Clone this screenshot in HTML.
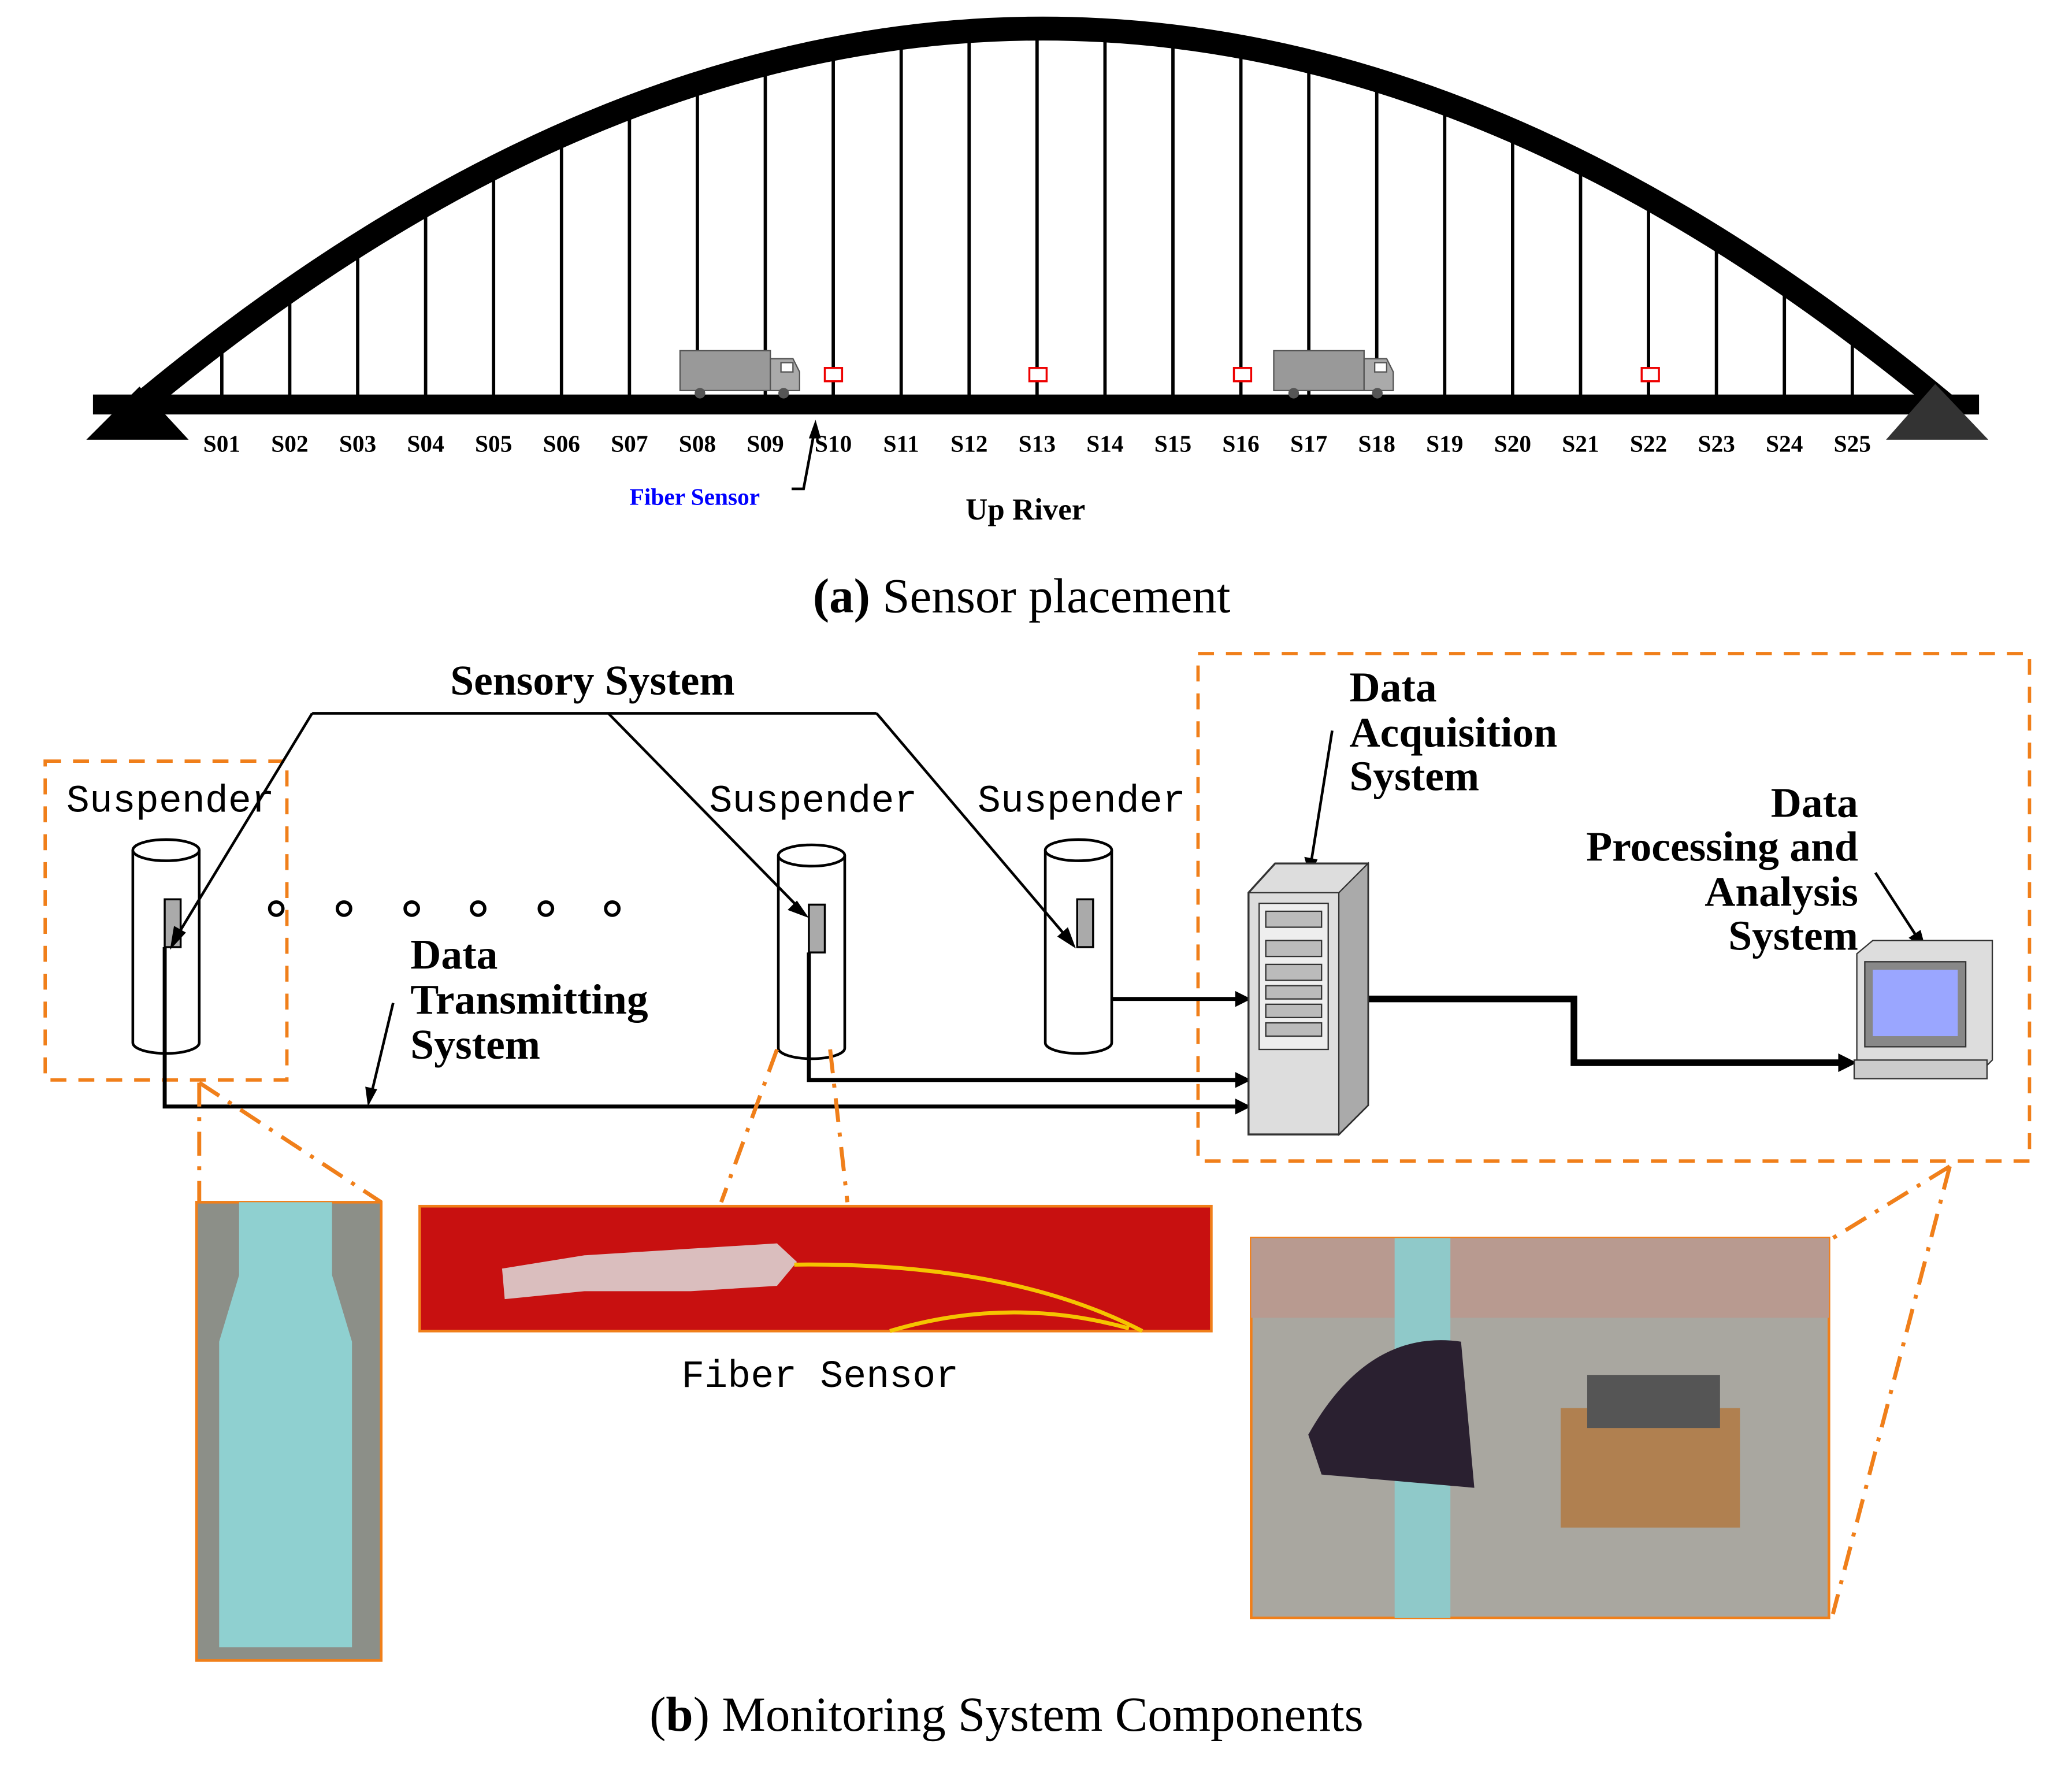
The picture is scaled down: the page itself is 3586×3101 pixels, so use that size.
<!DOCTYPE html>
<html><head><meta charset="utf-8"><style>
html,body{margin:0;padding:0;background:#fff}
svg{display:block}
.s{font-family:"Liberation Serif",serif;font-weight:bold;font-size:18px}
.t{font-family:"Liberation Serif",serif;font-weight:bold;font-size:32px}
.c{font-family:"Liberation Serif",serif;font-size:37px}
.m{font-family:"Liberation Mono","DejaVu Sans Mono",monospace;font-size:29px}
</style></head><body>
<svg id="sv" width="3586" height="3101" viewBox="0 0 1560 1349" xmlns="http://www.w3.org/2000/svg">
<rect width="1560" height="1349" fill="#fff"/>
<path d="M105 305 Q785 -262 1465 305" fill="none" stroke="#000" stroke-width="18"/>
<g id="hang" stroke="#000" stroke-width="2.5"></g>
<rect x="70" y="297" width="1420" height="15" fill="#000"/>
<polygon points="65,331 105,291 142,331" fill="#000"/>
<polygon points="1420,331 1457,289 1497,331" fill="#333"/>
<g id="lab" class="s"></g>
<g id="tr1">
<rect x="512" y="264" width="68" height="30" fill="#999" stroke="#555"/>
<polygon points="580,270 597,270 602,280 602,294 580,294" fill="#aaa" stroke="#555"/>
<rect x="588" y="273" width="9" height="7" fill="#fff" stroke="#555"/>
<circle cx="527" cy="296" r="4" fill="#555"/><circle cx="590" cy="296" r="4" fill="#555"/>
</g>
<use href="#tr1" x="447"/>
<g fill="#fff" stroke="#e00" stroke-width="1.5">
<rect x="621" y="277" width="13" height="10"/><rect x="775" y="277" width="13" height="10"/>
<rect x="929" y="277" width="13" height="10"/><rect x="1236" y="277" width="13" height="10"/>
</g>
<polyline points="596,368 605,368 614,320 611,330" fill="none" stroke="#000" stroke-width="2"/>
<polygon points="614,316 609,330 618,330" fill="#000"/>
<text x="474" y="380" class="s" fill="#00f">Fiber Sensor</text>
<text x="727" y="391" class="s" style="font-size:23px">Up River</text>
<text x="612" y="461" class="c"><tspan font-weight="bold">(a)</tspan> Sensor placement</text>

<g fill="none" stroke="#f07f1a" stroke-width="2.5" stroke-dasharray="12,9">
<rect x="34" y="573" width="182" height="240"/>
<rect x="902" y="492" width="626" height="382"/>
</g>
<text x="339" y="523" class="t">Sensory System</text>
<text x="50" y="611" class="m">Suspender</text>
<text x="534" y="611" class="m">Suspender</text>
<text x="736" y="611" class="m">Suspender</text>
<g fill="#fff" stroke="#000" stroke-width="2">
<path d="M100 640 V785 A25 8 0 0 0 150 785 V640"/><ellipse cx="125" cy="640" rx="25" ry="8"/>
<path d="M586 644 V789 A25 8 0 0 0 636 789 V644"/><ellipse cx="611" cy="644" rx="25" ry="8"/>
<path d="M787 640 V785 A25 8 0 0 0 837 785 V640"/><ellipse cx="812" cy="640" rx="25" ry="8"/>
</g>
<g fill="#aaa" stroke="#000" stroke-width="1.5">
<rect x="124" y="677" width="12" height="36"/><rect x="609" y="681" width="12" height="36"/><rect x="811" y="677" width="12" height="36"/>
</g>
<polyline points="235,537 660,537" stroke="#000" stroke-width="2" fill="none"/>
<g stroke="#000" stroke-width="2" fill="none">
<line x1="235" y1="537" x2="130" y2="710"/>
<line x1="458" y1="537" x2="605" y2="687"/>
<line x1="660" y1="537" x2="807" y2="710"/>
</g>
<g fill="#000">
<polygon points="128,715 131,697 140,702"/>
<polygon points="609,691 593,685 600,678"/>
<polygon points="810,714 796,705 804,698"/>
</g>
<g fill="none" stroke="#000" stroke-width="2.5">
<circle cx="208" cy="684" r="5"/><circle cx="259" cy="684" r="5"/><circle cx="310" cy="684" r="5"/>
<circle cx="360" cy="684" r="5"/><circle cx="411" cy="684" r="5"/><circle cx="461" cy="684" r="5"/>
</g>
<text class="t"><tspan x="309" y="729">Data</tspan><tspan x="309" y="763">Transmitting</tspan><tspan x="309" y="797">System</tspan></text>
<g stroke="#000" stroke-width="3" fill="none">
<polyline points="124,713 124,833 935,833"/>
<polyline points="609,717 609,813 935,813"/>
<line x1="837" y1="752" x2="935" y2="752"/>
<polyline points="1017,752 1185,752 1185,800 1390,800" stroke-width="5"/>
</g>
<line x1="296" y1="755" x2="279" y2="826" stroke="#000" stroke-width="2"/>
<polygon points="277,833 275,818 284,820" fill="#000"/>
<g fill="#000">
<polygon points="942,833 930,827 930,839"/><polygon points="942,813 930,807 930,819"/>
<polygon points="942,752 930,746 930,758"/><polygon points="1398,800 1384,793 1384,807"/>
</g>
<g stroke="#000" stroke-width="2">
<line x1="1003" y1="550" x2="987" y2="650"/>
<line x1="1412" y1="657" x2="1445" y2="708"/>
</g>
<polygon points="986,660 982,645 992,647" fill="#000"/><polygon points="1450,715 1437,706 1446,700" fill="#000"/>
<polygon points="940,672 960,650 1030,650 1030,832 1008,854 940,854" fill="#ddd" stroke="#333" stroke-width="1.5"/>
<polygon points="1008,672 1030,650 1030,832 1008,854" fill="#aaa" stroke="#333"/>
<line x1="940" y1="672" x2="1008" y2="672" stroke="#333"/>
<rect x="948" y="680" width="52" height="110" fill="#eee" stroke="#333"/>
<g fill="#bbb" stroke="#333"><rect x="953" y="686" width="42" height="12"/><rect x="953" y="708" width="42" height="12"/><rect x="953" y="726" width="42" height="12"/><rect x="953" y="742" width="42" height="10"/><rect x="953" y="756" width="42" height="10"/><rect x="953" y="770" width="42" height="10"/></g>
<polygon points="1398,718 1410,708 1500,708 1500,798 1490,808 1398,808" fill="#ddd" stroke="#333"/>
<rect x="1404" y="724" width="76" height="64" fill="#888" stroke="#333"/>
<rect x="1410" y="730" width="64" height="50" fill="#9aa6ff"/>
<rect x="1396" y="798" width="100" height="14" fill="#ccc" stroke="#333"/>
<text class="t"><tspan x="1016" y="528">Data</tspan><tspan x="1016" y="562">Acquisition</tspan><tspan x="1016" y="595">System</tspan></text>
<text class="t" text-anchor="end"><tspan x="1399" y="615">Data</tspan><tspan x="1399" y="648">Processing and</tspan><tspan x="1399" y="682">Analysis</tspan><tspan x="1399" y="715">System</tspan></text>
<g stroke="#f07f1a" stroke-width="3" fill="none" stroke-dasharray="18,8,3,8">
<line x1="150" y1="815" x2="150" y2="905"/><line x1="150" y1="815" x2="287" y2="905"/>
<line x1="585" y1="790" x2="543" y2="905"/><line x1="625" y1="790" x2="638" y2="905"/>
<line x1="1468" y1="878" x2="1380" y2="932"/><line x1="1468" y1="878" x2="1380" y2="1215"/>
</g>
<rect x="148" y="905" width="139" height="345" fill="#8c8f88" stroke="#f07f1a" stroke-width="2"/>
<path d="M180 905 H250 V960 L265 1010 V1240 H165 V1010 L180 960Z" fill="#8fd0d0"/>
<rect x="316" y="908" width="596" height="94" fill="#c81010" stroke="#f07f1a" stroke-width="2"/>
<polygon points="378,955 440,945 520,940 585,936 600,950 585,968 520,972 440,972 380,978" fill="#ddd" opacity=".85"/>
<path d="M598 952 Q760 950 860 1002 M670 1002 Q760 975 850 1000" stroke="#f5c400" stroke-width="3" fill="none"/>
<text x="513" y="1044" class="m">Fiber Sensor</text>
<rect x="942" y="932" width="435" height="286" fill="#a9a7a0" stroke="#f07f1a" stroke-width="2"/>
<rect x="942" y="932" width="435" height="60" fill="#b89a90"/>
<rect x="1050" y="932" width="42" height="286" fill="#8fc9c9"/>
<path d="M985 1080 Q1030 1000 1100 1010 L1110 1120 L995 1110Z" fill="#2a2030"/>
<rect x="1175" y="1060" width="135" height="90" fill="#b08050"/>
<rect x="1195" y="1035" width="100" height="40" fill="#555"/>
<text x="489" y="1303" class="c">(<tspan font-weight="bold">b</tspan>) Monitoring System Components</text>
</svg>
<script>
var ns="http://www.w3.org/2000/svg",h=document.getElementById("hang"),l=document.getElementById("lab");
for(var i=0;i<25;i++){var x=167+i*51.15;
var t=(x-105)/1360,y=(1-t)*(1-t)*305+2*t*(1-t)*(-262)+t*t*305;
var ln=document.createElementNS(ns,"line");ln.setAttribute("x1",x);ln.setAttribute("x2",x);ln.setAttribute("y1",y);ln.setAttribute("y2",300);h.appendChild(ln);
var tx=document.createElementNS(ns,"text");tx.setAttribute("x",x);tx.setAttribute("y",340);tx.setAttribute("text-anchor","middle");tx.textContent="S"+(i<9?"0":"")+(i+1);l.appendChild(tx);}
</script>
</body></html>
